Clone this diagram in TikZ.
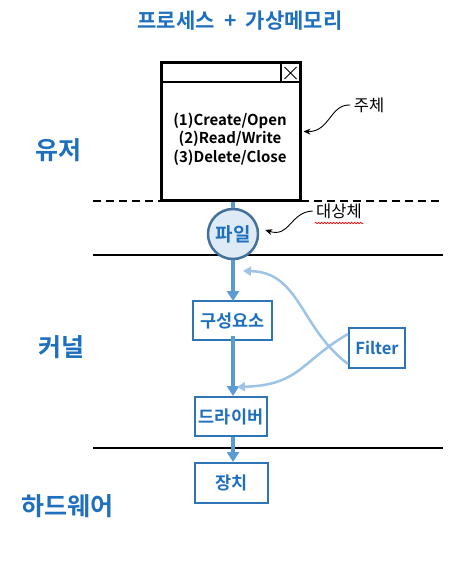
\documentclass[tikz,border=0pt]{standalone}
\usepackage{fontspec}
\setmainfont{Noto Sans CJK KR}[BoldFont=* Bold]
\usetikzlibrary{arrows.meta,decorations.pathmorphing}
\definecolor{kblue}{HTML}{1F6FBF}
\definecolor{boxblue}{HTML}{2E75B6}
\definecolor{midblue}{HTML}{5B9BD5}
\definecolor{paleblue}{HTML}{9DC3E6}
\definecolor{ringblue}{HTML}{41719C}
\definecolor{ringfill}{HTML}{DEEBF7}
\begin{document}
\begin{tikzpicture}[
    x=1pt, y=-1pt, % pixel grid, y going down
    every node/.style={text=kblue},
    unit/.style={draw=boxblue, line width=2pt, fill=white, minimum height=39pt, inner sep=0pt, font=\fontsize{17.5}{17.5}\selectfont\bfseries},
    flow/.style={draw=midblue, line width=4pt, -{Triangle[length=10pt,width=12pt]}},
    hook/.style={draw=paleblue, line width=2.5pt, -{Triangle[length=8pt,width=9pt]}},
    note/.style={draw=black, line width=0.9pt, -{Stealth[length=7pt,width=6pt]}},
    layer/.style={font=\fontsize{25}{25}\selectfont\bfseries},
    memo/.style={text=black, font=\fontsize{16.5}{16.5}\selectfont}
]
    \useasboundingbox (0,0) rectangle (458,567);

    % --- TITLE ---
    \node[font=\fontsize{21}{21}\selectfont\bfseries] (title) at (240,21) {프로세스\hspace{0.45em}+\hspace{0.45em}가상메모리};

    % --- LAYER NAMES ---
    \node[layer] (user) at (58,150) {유저};
    \node[layer] (kernel) at (61,347) {커널};
    \node[layer] (hw) at (67,506) {하드웨어};

    % --- LAYER BORDERS ---
    \coordinate (B1L) at (93,201);  \coordinate (B1R) at (443,201);
    \coordinate (B2L) at (93,255);  \coordinate (B2R) at (443,255);
    \coordinate (B3L) at (93,448);  \coordinate (B3R) at (443,448);
    \draw[line width=2pt, dash pattern=on 8pt off 5pt] (B1L) -- (B1R);
    \draw[line width=1.8pt] (B2L) -- (B2R);
    \draw[line width=1.8pt] (B3L) -- (B3R);

    % --- PROCESS WINDOW ---
    \node[draw, line width=3pt, fill=white, minimum width=139pt, minimum height=137pt] (win) at (230.5,131.5) {};
    \coordinate (barL) at (161,82);
    \coordinate (barR) at (300,82);
    \coordinate (xbox) at (281,63);
    \draw[line width=1.5pt] (barL) -- (barR);
    \draw[line width=1.5pt] (xbox) -- (xbox |- barL);
    \draw[line width=0.8pt] (284.5,67) -- (296.5,79) (284.5,79) -- (296.5,67);
    \node[text=black, font=\fontsize{15}{18.5}\selectfont\bfseries, align=center] (ops) at (230,139)
        {(1)Create/Open\\(2)Read/Write\\(3)Delete/Close};

    % --- FILE ---
    \node[circle, draw=ringblue, fill=ringfill, line width=2.5pt, minimum size=50pt, inner sep=0pt,
          font=\fontsize{19}{19}\selectfont\bfseries] (file) at (233,234) {파일};
    \draw[draw=midblue, line width=4pt] (win.south -| file) -- (file.north);

    % --- KERNEL / HARDWARE UNITS ---
    \node[unit, minimum width=79pt] (comp) at (232.5,320.5) {구성요소};
    \node[unit, minimum width=72pt] (drv) at (231,416.5) {드라이버};
    \node[unit, minimum width=73pt, minimum height=40pt] (dev) at (231.5,483) {장치};
    \node[unit, minimum width=56pt, minimum height=40pt, font=\fontsize{16.5}{16.5}\selectfont\bfseries] (filter) at (377,348) {Filter};

    % Main flow
    \draw[flow] (file.south) -- ([yshift=-1pt]comp.north -| file);
    \draw[flow] ([yshift=5pt]comp.south -| file) -- (drv.north -| file);
    \draw[flow] (drv.south -| file) -- (dev.north -| file);

    % Filter hooks
    \coordinate (hit1) at (243,271);
    \coordinate (hit2) at (237,387);
    \draw[hook] ([yshift=-16pt]filter.west) .. controls (300,328) and (300,272) .. (hit1);
    \draw[hook] ([yshift=14pt]filter.west) .. controls (300,362) and (300,385) .. (hit2);

    % --- ANNOTATIONS ---
    \node[memo] (subj) at (369,105) {주체};
    \draw[note] (subj.west) .. controls (330,104) and (330,132) .. ([xshift=2pt]win.east);
    \node[memo] (obj) at (339,211) {대상체};
    \draw[note] (obj.west) .. controls (290,212) and (290,238) .. ([xshift=6pt,yshift=4pt]file.east);
    \draw[red, line width=0.6pt, decorate, decoration={snake, amplitude=0.8pt, segment length=3pt}]
        ([xshift=2pt,yshift=-1pt]obj.south west) -- ([xshift=-2pt,yshift=-1pt]obj.south east);

\end{tikzpicture}
\end{document}
